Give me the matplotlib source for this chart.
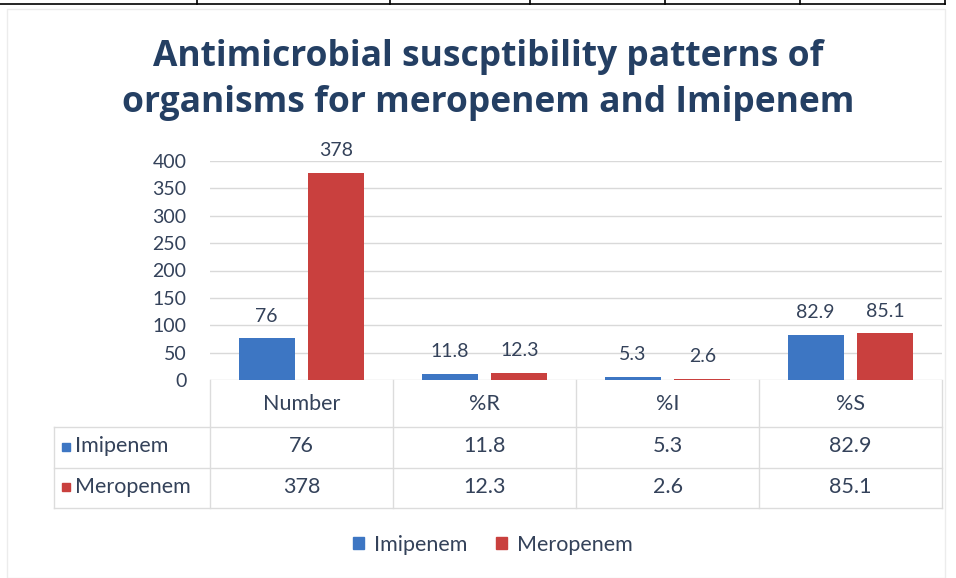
import matplotlib
matplotlib.use("Agg")
import matplotlib.pyplot as plt
from matplotlib.lines import Line2D
from matplotlib.patches import Rectangle

categories = ["Number", "%R", "%I", "%S"]
series_names = ["Imipenem", "Meropenem"]
imipenem = [76, 11.8, 5.3, 82.9]
meropenem = [378, 12.3, 2.6, 85.1]
yticks = [0, 50, 100, 150, 200, 250, 300, 350, 400]
title_lines = ["Antimicrobial suscptibility patterns of", "organisms for meropenem and Imipenem"]

W, H = 956, 578
fig = plt.figure(figsize=(W / 100, H / 100), dpi=100)
fig.patch.set_facecolor("white")

def fx(x):
    return x / W

def fy(y):
    return 1 - y / H

TXT = "#34425a"
GRID = "#d9d9d9"
BLUE = "#3d76c3"
RED = "#c9403e"
FONT = "Lato"

# document table fragment at top
fig.add_artist(Line2D([fx(0), fx(945)], [fy(4), fy(4)], color="black", lw=1.2))
for xv in [197, 390, 530, 665, 800, 945]:
    fig.add_artist(Line2D([fx(xv), fx(xv)], [fy(0), fy(4)], color="black", lw=1.2))

# chart frame
fig.add_artist(Rectangle((fx(7), fy(578)), fx(945 - 7), (578 - 9) / H,
                         transform=fig.transFigure, fill=False, edgecolor="#ececec", lw=1))

# title
for yv, line in zip((57, 103), title_lines):
    fig.text(fx(488), fy(yv), line, ha="center", va="center", fontsize=25.5, fontweight="bold",
             color="#243f63", family="Open Sans")

# main axes
x0, x1 = 210, 942
ytop, ybot = 161, 380
ax = fig.add_axes([fx(x0), fy(ybot), fx(x1 - x0), (ybot - ytop) / H])
ax.set_xlim(-0.5, len(categories) - 0.5)
ax.set_ylim(0, 400)
for s in ax.spines.values():
    s.set_visible(False)
ax.set_yticks(yticks)
ax.set_yticklabels([str(v) for v in yticks], fontsize=14, color=TXT, family=FONT)
ax.tick_params(axis="y", length=0, pad=17)
ax.set_xticks([])
ax.yaxis.grid(True, color=GRID, lw=1)
ax.set_axisbelow(True)
ax.set_facecolor("none")

bw = 0.306
off = 0.19
xs = list(range(len(categories)))
b1 = ax.bar([x - off for x in xs], imipenem, width=bw, color=BLUE, zorder=3)
b2 = ax.bar([x + off for x in xs], meropenem, width=bw, color=RED, zorder=3)
for bars, vals in ((b1, imipenem), (b2, meropenem)):
    for rect, v in zip(bars, vals):
        ax.annotate(f"{v:g}", (rect.get_x() + rect.get_width() / 2, v), xytext=(0, 10),
                    textcoords="offset points", ha="center", va="bottom", fontsize=14,
                    color=TXT, family=FONT)

# data table below
col_edges = [x0 + i * (x1 - x0) / len(categories) for i in range(len(categories) + 1)]
tleft = 54
row_edges = [380, 427, 468, 508]
lc = "#dcdcdc"
for xv in col_edges:
    fig.add_artist(Line2D([fx(xv), fx(xv)], [fy(row_edges[0]), fy(row_edges[-1])], color=lc, lw=1))
fig.add_artist(Line2D([fx(tleft), fx(tleft)], [fy(row_edges[1]), fy(row_edges[-1])], color=lc, lw=1))
for yv in row_edges[1:]:
    fig.add_artist(Line2D([fx(tleft), fx(x1)], [fy(yv), fy(yv)], color=lc, lw=1))

TS = 15.5
for i, c in enumerate(categories):
    cx = (col_edges[i] + col_edges[i + 1]) / 2
    fig.text(fx(cx), fy(404), c, ha="center", va="center", fontsize=TS, color=TXT, family=FONT)
    for r, vals in enumerate((imipenem, meropenem)):
        cy = (row_edges[r + 1] + row_edges[r + 2]) / 2 - 1
        fig.text(fx(cx), fy(cy), f"{vals[i]:g}", ha="center", va="center", fontsize=TS,
                 color=TXT, family=FONT)

for r, (name, col) in enumerate(zip(series_names, (BLUE, RED))):
    cy = (row_edges[r + 1] + row_edges[r + 2]) / 2 - 1
    fig.add_artist(Rectangle((fx(62), fy(cy + 4)), fx(8), 8 / H, transform=fig.transFigure,
                             color=col))
    fig.text(fx(75), fy(cy), name, ha="left", va="center", fontsize=TS, color=TXT, family=FONT)

# legend
leg = fig.legend([Rectangle((0, 0), 1, 1, color=BLUE), Rectangle((0, 0), 1, 1, color=RED)],
                 series_names, loc="center", bbox_to_anchor=(fx(493), fy(545)), ncol=2,
                 frameon=False, handlelength=0.5, handleheight=0.5, handletextpad=0.5,
                 columnspacing=1.3, prop={"family": FONT, "size": TS})
for t in leg.get_texts():
    t.set_color(TXT)

fig.savefig("out.png", dpi=100, facecolor="white")
